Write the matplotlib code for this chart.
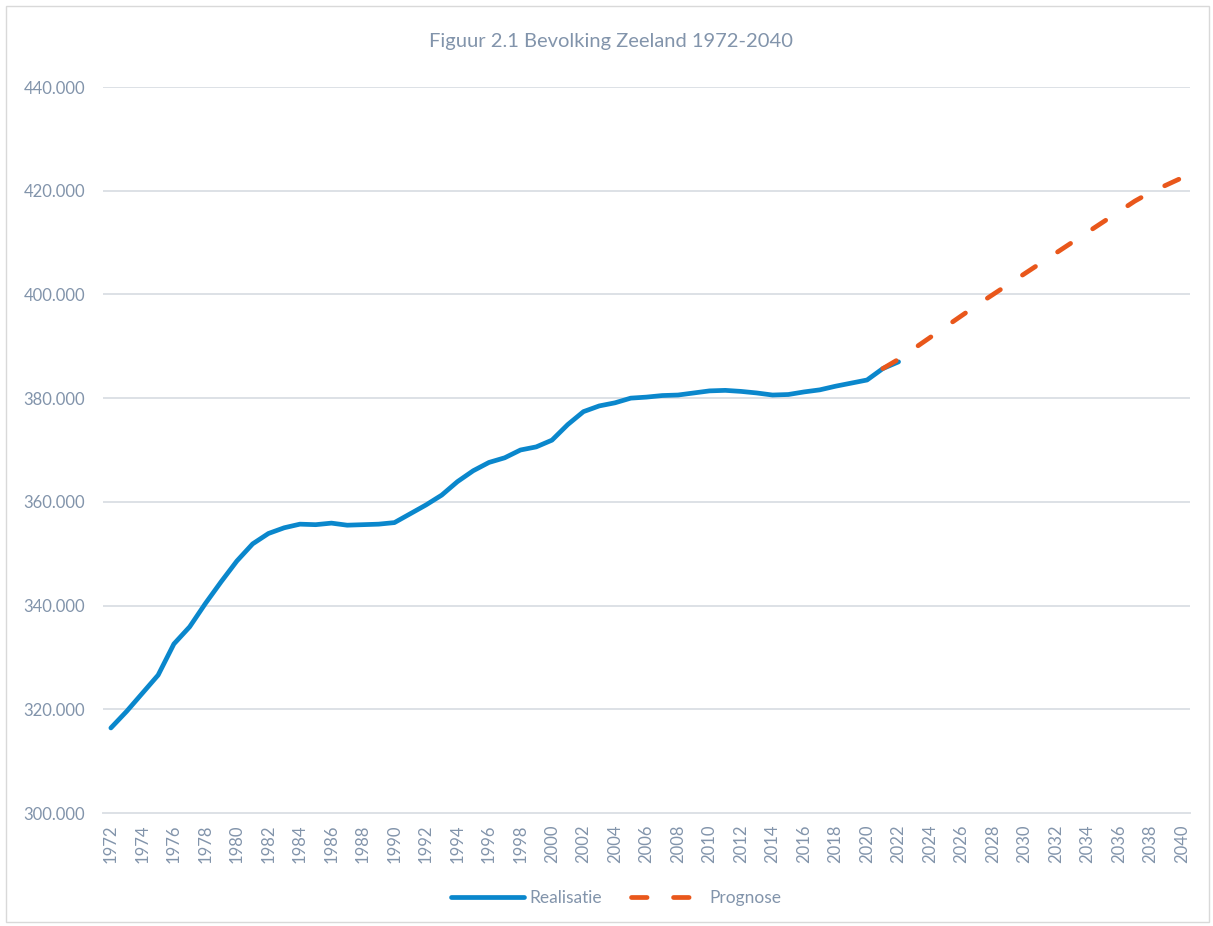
import numpy as np
import matplotlib
matplotlib.use("Agg")
import matplotlib.pyplot as plt
from matplotlib.patches import Rectangle
from matplotlib.ticker import FuncFormatter

# realisatie 1972-2022
jaren_real = list(range(1972, 2023))
realisatie = [316.4, 319.6, 323.1, 326.6, 332.6, 335.9, 340.4, 344.6, 348.6, 351.9,
              353.9, 355.0, 355.7, 355.6, 355.9, 355.5, 355.6, 355.7, 356.0, 357.7,
              359.4, 361.3, 363.9, 366.0, 367.6, 368.5, 370.0, 370.6, 371.9, 374.9,
              377.4, 378.5, 379.1, 380.0, 380.2, 380.5, 380.6, 381.0, 381.4, 381.5,
              381.3, 381.0, 380.6, 380.7, 381.2, 381.6, 382.3, 382.9, 383.5, 385.7,
              387.0]
# prognose 2021-2040
jaren_prog = list(range(2021, 2041))
prognose = [385.7, 387.5, 389.6, 391.7, 393.8, 395.9, 398.0, 400.0, 402.0, 404.0,
            406.0, 408.0, 410.0, 412.0, 414.0, 416.0, 418.0, 419.7, 421.1, 422.5]

realisatie = [v * 1000 for v in realisatie]
prognose = [v * 1000 for v in prognose]

tekst = '#8294ab'
grid = '#dde1e6'
blauw = '#0a87cc'
oranje = '#e9571b'

plt.rcParams['font.family'] = ['Lato', 'DejaVu Sans']

fig = plt.figure(figsize=(12.13, 9.26), dpi=100)
ax = fig.add_axes([103 / 1213, 1 - 813 / 926, 1087 / 1213, 726 / 926])

ax.plot(jaren_real, realisatie, color=blauw, lw=3.4, solid_capstyle='round',
        solid_joinstyle='round', label='Realisatie', zorder=3)
ax.plot(jaren_prog, prognose, color=oranje, lw=3.4, dashes=(3.3, 5.6),
        dash_capstyle='round', label='Prognose', zorder=4)

ax.set_xlim(1971.5, 2040.5)
ax.set_ylim(300000, 440000)
ax.set_yticks(np.arange(300000, 440001, 20000))
ax.yaxis.set_major_formatter(FuncFormatter(lambda v, p: f'{int(v):,}'.replace(',', '.')))
ax.set_xticks(range(1972, 2041, 2))
ax.tick_params(axis='x', rotation=90, length=0, pad=8, labelsize=12, labelcolor=tekst)
ax.tick_params(axis='y', length=0, pad=13, labelsize=12, labelcolor=tekst)

ax.grid(axis='y', color=grid, lw=1.4)
ax.set_axisbelow(True)
for s in ['top', 'right', 'left']:
    ax.spines[s].set_visible(False)
ax.spines['bottom'].set_color(grid)
ax.spines['bottom'].set_linewidth(1.4)

fig.text(0.504, 1 - 42 / 926, 'Figuur 2.1 Bevolking Zeeland 1972-2040', ha='center',
         va='center', fontsize=14.5, color=tekst)

fig.legend(loc='center', bbox_to_anchor=(0.508, 1 - 898 / 926), ncol=2, frameon=False,
           fontsize=12.5, labelcolor=tekst, handlelength=4.2, columnspacing=1.7,
           handletextpad=0.3)

fig.patches.append(Rectangle((6 / 1213, 4 / 926), 1203 / 1213, 916 / 926,
                             transform=fig.transFigure, fill=False, ec='#d9d9d9', lw=1))

fig.savefig('out.png', dpi=100)
